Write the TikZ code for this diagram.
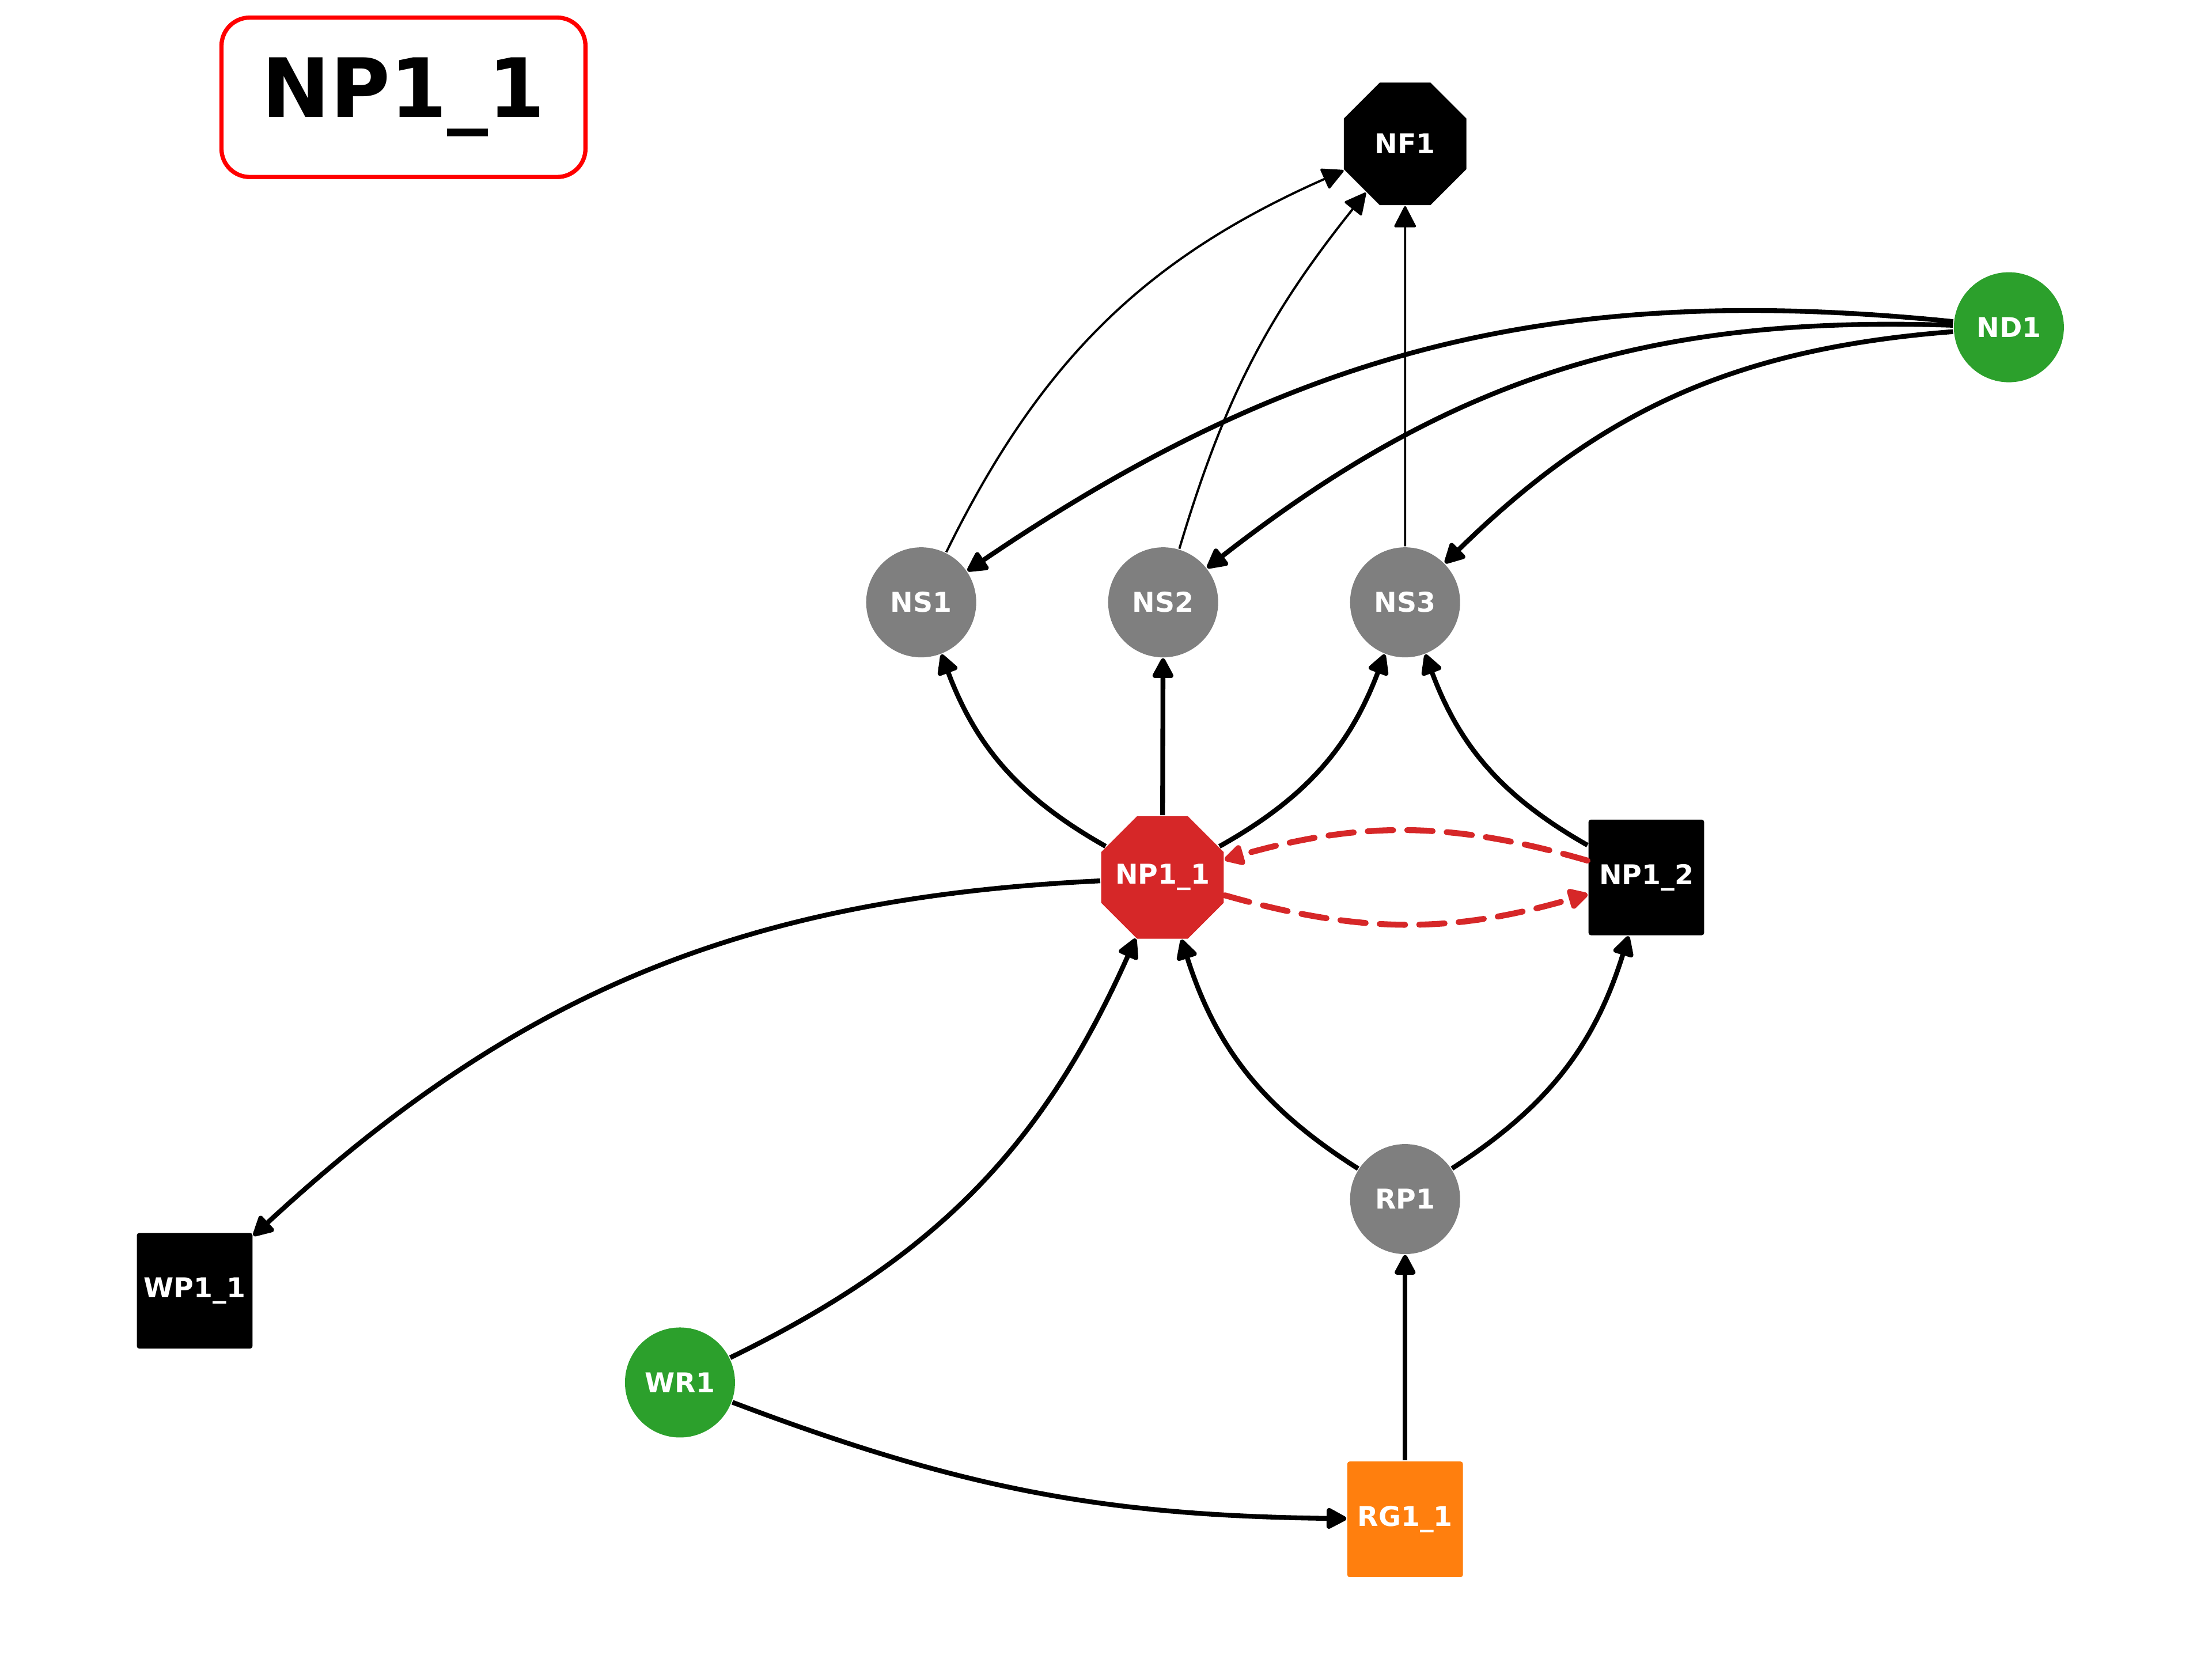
\documentclass[tikz,border=0pt]{standalone}
\usepackage{fontspec}
\setmainfont{DejaVu Sans}
\usepackage{xcolor}
\usetikzlibrary{shapes,arrows.meta,positioning}

\definecolor{nred}{HTML}{D62728}
\definecolor{ngreen}{HTML}{2CA02C}
\definecolor{ngrey}{HTML}{7F7F7F}
\definecolor{norange}{HTML}{FF7F0E}

\tikzset{
    lbl/.style={text=white, font=\fontsize{5.5}{6}\selectfont\bfseries, inner sep=0pt},
    greycirc/.style={lbl, circle, fill=ngrey, minimum size=0.78cm},
    greencirc/.style={lbl, circle, fill=ngreen, minimum size=0.78cm},
    octa/.style={lbl, regular polygon, regular polygon sides=8, minimum size=0.94cm, inner xsep=-0.15cm},
    sqbox/.style={lbl, rectangle, rounded corners=0.5pt, minimum size=0.82cm},
    edge/.style={-{Triangle[length=0.16cm,width=0.16cm,round]}, line width=0.034cm, black},
    thinedge/.style={edge, line width=0.016cm},
    redge/.style={edge, draw=nred, line width=0.042cm, dash pattern=on 0.18cm off 0.1cm, line cap=round}
}

\begin{document}
\begin{tikzpicture}[node distance=1.715cm]
    \useasboundingbox (0,0) rectangle (15.68,11.76);

    % title
    \node [draw=red, line width=0.03cm, rounded corners=0.2cm, minimum width=2.58cm, minimum height=1.13cm, font=\fontsize{16.5}{18}\selectfont\bfseries] (title) at (2.86,11.07) {NP1\_1};

    % nodes
    \node [octa, fill=black] (nf1) at (9.96,10.74) {NF1};
    \node [greencirc] (nd1) at (14.24,9.44) {ND1};
    \node [greycirc] (ns1) at (6.53,7.49) {NS1};
    \node [greycirc, right of=ns1] (ns2) {NS2};
    \node [greycirc, right of=ns2] (ns3) {NS3};
    \node [octa, fill=nred] (np11) at (8.24,5.54) {NP1\_1};
    \node [sqbox, fill=black] (np12) at (11.67,5.54) {NP1\_2};
    \node [sqbox, fill=black] (wp11) at (1.38,2.61) {WP1\_1};
    \node [greycirc] (rp1) at (9.96,3.26) {RP1};
    \node [greencirc] (wr1) at (4.82,1.96) {WR1};
    \node [sqbox, fill=norange] (rg11) at (9.96,0.99) {RG1\_1};

    % edges
    \draw [thinedge] (ns1) to[bend left=20] (nf1);
    \draw [thinedge] (ns2) to[bend left=11] (nf1);
    \draw [thinedge] (ns3) -- (nf1);
    \draw [edge] (nd1) to[bend right=20] (ns1);
    \draw [edge] (nd1) to[bend right=20] (ns2);
    \draw [edge] (nd1) to[bend right=20] (ns3);
    \draw [edge] (np11) to[bend left=20] (ns1);
    \draw [edge] (np11) -- (ns2);
    \draw [edge] (np11) to[bend right=20] (ns3);
    \draw [edge] (np12) to[bend left=20] (ns3);
    \draw [redge] (np12) to[bend right=16] (np11);
    \draw [redge] (np11) to[bend right=16] (np12);
    \draw [edge] (np11) to[bend right=20] (wp11);
    \draw [edge] (wr1) to[bend right=20] (np11);
    \draw [edge] (wr1) to[bend right=10] (rg11);
    \draw [edge] (rp1) to[bend left=20] (np11);
    \draw [edge] (rp1) to[bend right=20] (np12);
    \draw [edge] (rg11) -- (rp1);
\end{tikzpicture}
\end{document}
